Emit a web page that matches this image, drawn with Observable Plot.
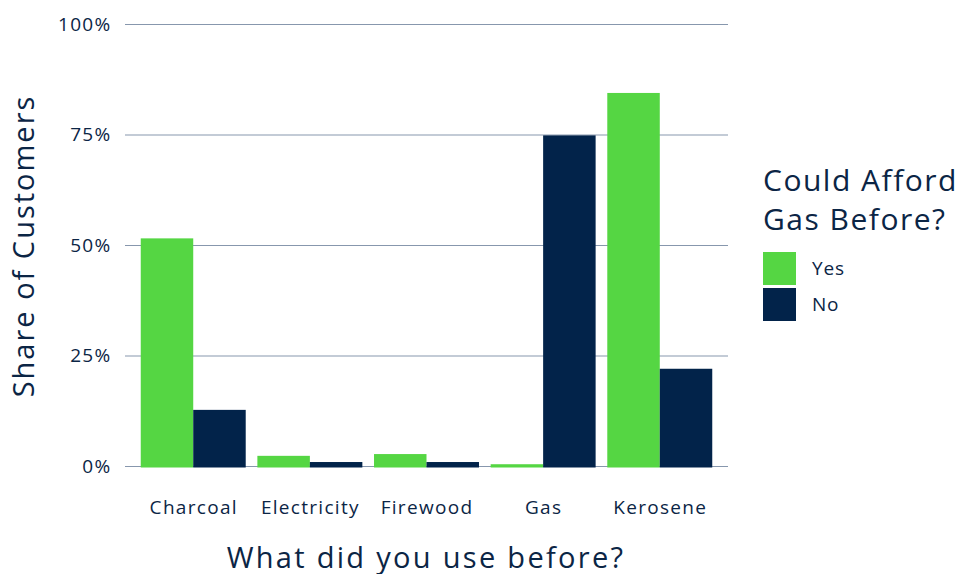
<!DOCTYPE html>
<html>
<head>
<meta charset="utf-8">
<script src="https://cdn.jsdelivr.net/npm/d3@7"></script>
<script src="https://cdn.jsdelivr.net/npm/@observablehq/plot@0.6"></script>
<style>
  html, body { margin: 0; padding: 0; background: #fff; }
  #wrap { position: relative; width: 962px; height: 574px; font-family: "Open Sans", sans-serif; color: #0b2545; }
  .ttl { position: absolute; white-space: nowrap; color: #0b2545; }
  #ytitle { left: 22px; top: 246px; font-size: 29px; letter-spacing: 2px; transform: translate(-50%, -50%) rotate(-90deg); }
  #xtitle { left: 426px; top: 556px; font-size: 29px; letter-spacing: 2.3px; transform: translate(-50%, -50%); }
  #legend { position: absolute; left: 763px; top: 160px; }
  #legend .lt { font-size: 30px; line-height: 39px; letter-spacing: 1.5px; }
  #legend .row { display: flex; align-items: center; height: 36px; }
  #legend .sw { width: 33px; height: 33px; margin-right: 16px; }
  #legend .lab { font-size: 19px; letter-spacing: 0.8px; }
  #chart svg text { letter-spacing: 1.3px; }
</style>
</head>
<body>
<div id="wrap">
  <div id="chart"></div>
  <div id="ytitle" class="ttl">Share of Customers</div>
  <div id="xtitle" class="ttl">What did you use before?</div>
  <div id="legend">
    <div class="lt">Could Afford<br>Gas Before?</div>
    <div id="keys" style="margin-top:12px"></div>
  </div>
</div>
<script>
const categories = ["Charcoal", "Electricity", "Firewood", "Gas", "Kerosene"];
const groups = ["Yes", "No"];
const yesValues = [0.515, 0.023, 0.027, 0.004, 0.844];
const noValues = [0.127, 0.009, 0.009, 0.748, 0.22];
const yTicks = [0, 0.25, 0.5, 0.75, 1];
const colors = ["#55d643", "#02234a"];

const barWidth = 0.45;
const data = [];
categories.forEach((c, i) => {
  data.push({category: c, idx: i, group: "Yes", value: yesValues[i], x1: i - barWidth, x2: i});
  data.push({category: c, idx: i, group: "No", value: noValues[i], x1: i, x2: i + barWidth});
});

const chart = Plot.plot({
  width: 962,
  height: 574,
  marginLeft: 125,
  marginRight: 234,
  marginTop: 24,
  marginBottom: 108,
  style: {fontFamily: "'Open Sans', sans-serif", fontSize: "19px", color: "#0b2545", background: "#fff"},
  x: {
    type: "linear",
    domain: [-0.585, categories.length - 1 + 0.585],
    ticks: categories.map((c, i) => i),
    tickFormat: i => categories[i],
    tickSize: 0,
    tickPadding: 34,
    label: null
  },
  y: {
    domain: [0, 1],
    ticks: yTicks,
    tickFormat: d => Math.round(d * 100) + "%",
    tickSize: 0,
    tickPadding: 14,
    label: null
  },
  color: {domain: groups, range: colors},
  marks: [
    Plot.ruleY(yTicks, {stroke: "#8797ad", strokeWidth: 1}),
    Plot.rectY(data, {x1: "x1", x2: "x2", y: "value", fill: "group", insetBottom: -1.5})
  ]
});
document.getElementById("chart").appendChild(chart);

const keys = document.getElementById("keys");
groups.forEach((g, i) => {
  const row = document.createElement("div");
  row.className = "row";
  row.innerHTML = `<div class="sw" style="background:${colors[i]}"></div><div class="lab">${g}</div>`;
  keys.appendChild(row);
});
</script>
</body>
</html>
